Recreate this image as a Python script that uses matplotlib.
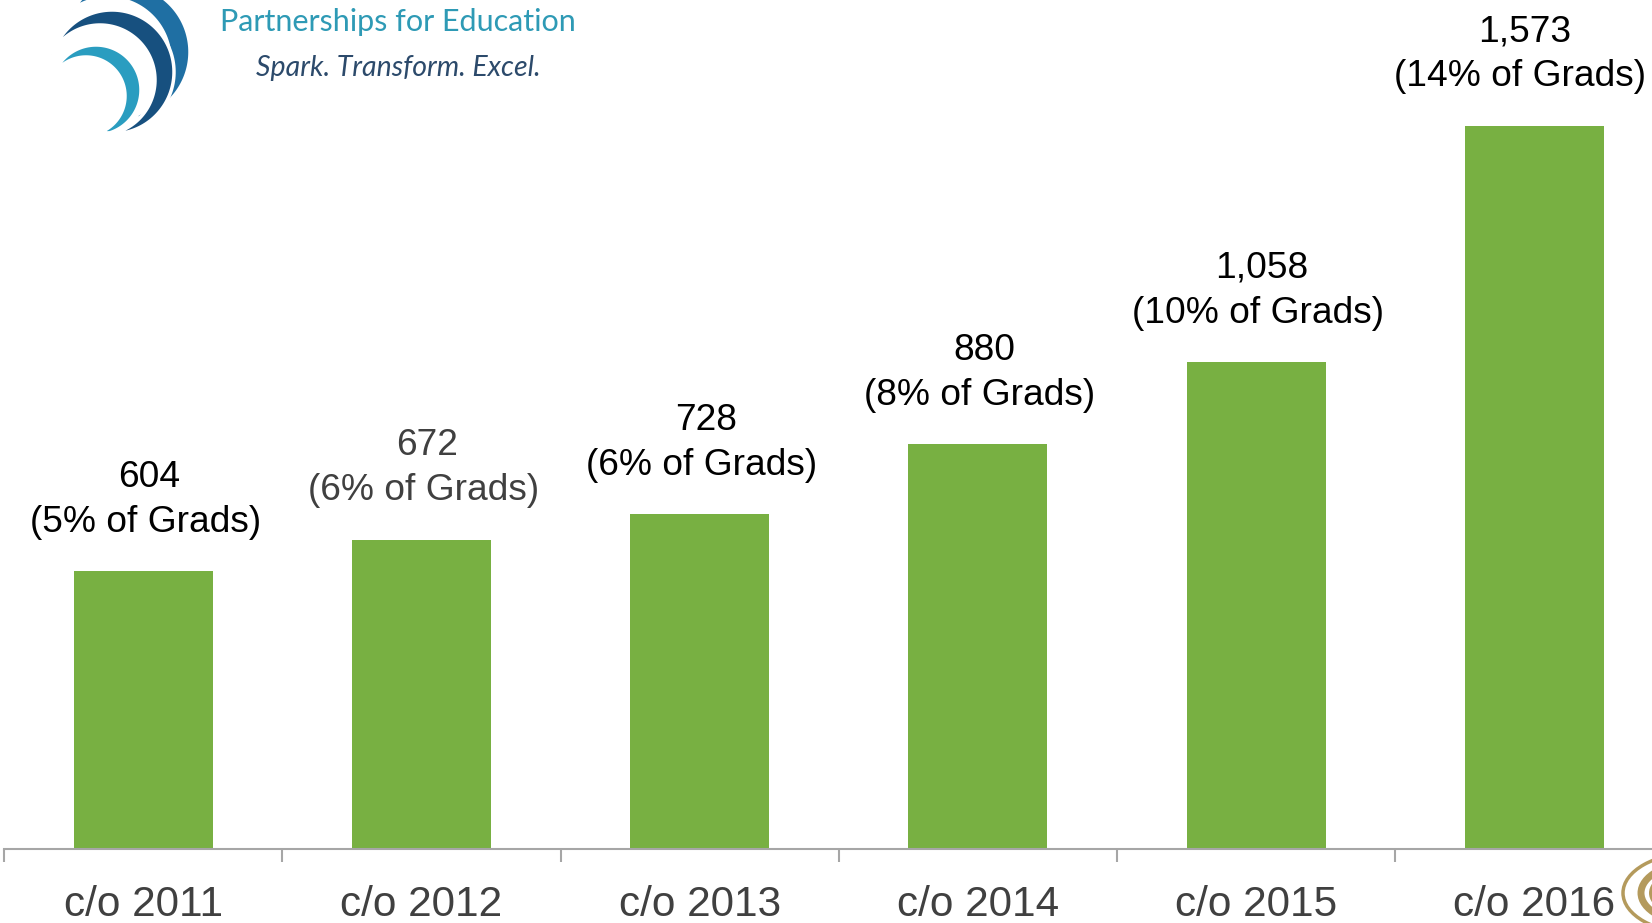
import numpy as np
import matplotlib
matplotlib.use("Agg")
import matplotlib.pyplot as plt
from matplotlib.patches import Polygon, Circle

# chart data
classes = ["c/o 2011", "c/o 2012", "c/o 2013", "c/o 2014", "c/o 2015", "c/o 2016"]
counts = [604, 672, 728, 880, 1058, 1573]
pct_grads = [5, 6, 6, 8, 10, 14]
label_colors = ["black", "#404040", "black", "black", "black", "black"]

BAR_GREEN = "#78B042"
AXIS_GREY = "#A6A6A6"
GOLD = "#B49A5C"

plt.rcParams["font.family"] = ["Liberation Sans", "DejaVu Sans"]

W, H = 1652, 923
fig = plt.figure(figsize=(W / 100, H / 100), dpi=100)

# axes runs a bit past the right edge, like the cropped slide
ax = fig.add_axes([4.2 / W, 74 / H, 1669.2 / W, 849 / H])
x = np.arange(len(classes))
bars = ax.bar(x, counts, width=0.5, color=BAR_GREEN, zorder=2)

ax.set_xlim(-0.5, len(classes) - 0.5)
ax.set_ylim(0, 1846)

for s in ["top", "left", "right"]:
    ax.spines[s].set_visible(False)
ax.spines["bottom"].set_color(AXIS_GREY)
ax.spines["bottom"].set_linewidth(1.5)
ax.set_yticks([])

ax.set_xticks(x)
ax.set_xticklabels(classes, fontsize=30.4, color="#404040")
ax.set_xticks(np.arange(len(classes) + 1) - 0.5, minor=True)
ax.tick_params(axis="x", which="major", length=0, pad=26)
ax.tick_params(axis="x", which="minor", length=9.4, width=1.5,
               color=AXIS_GREY, direction="out")

# two-line value labels above each bar; the last one is nudged left to stay on the slide
for i, (xi, n, p, c) in enumerate(zip(x, counts, pct_grads, label_colors)):
    dx = -14 if i == len(classes) - 1 else 2
    ax.annotate(f"{n:,}", (xi, n), xytext=(dx + 4, 94), textcoords="offset pixels",
                ha="center", va="center", fontsize=26.7, color=c)
    ax.annotate(f"({p}% of Grads)", (xi, n), xytext=(dx, 49), textcoords="offset pixels",
                ha="center", va="center", fontsize=26.7, color=c)


# logo in the top-left corner (decoration), pixel coords with y down
def swoosh(c1, r1, c2, r2, a0, a1, color):
    t = np.radians(np.linspace(a0, a1, 100))
    outer = np.c_[c1[0] + r1 * np.cos(t), c1[1] + r1 * np.sin(t)]
    inner = np.c_[c2[0] + r2 * np.cos(t[::-1]), c2[1] + r2 * np.sin(t[::-1])]
    pts = np.vstack([outer, inner])
    pts[:, 0] /= W
    pts[:, 1] = 1 - pts[:, 1] / H
    fig.patches.append(Polygon(pts, closed=True, facecolor=color, edgecolor="white",
                               linewidth=2.5, transform=fig.transFigure, figure=fig))


swoosh((122, 52), 68, (108, 60), 62, -125, 82, "#1F6FA3")
swoosh((112, 72), 62, (100, 80), 55, -152, 78, "#17507F")
swoosh((96, 90), 45, (86, 96), 39, -152, 72, "#2A9DC0")

fig.text(398 / W, 1 - 22 / H, "Partnerships for Education", ha="center", va="center",
         fontsize=22, color="#2E9AB5", family=["Lato", "DejaVu Sans"])
fig.text(398 / W, 1 - 68 / H, "Spark. Transform. Excel.", ha="center", va="center",
         fontsize=20.5, color="#2C4A6B", style="italic", family=["Lato", "DejaVu Sans"])

# partial university seal at the bottom-right edge (decoration)
seal_xy = (1695 / W, 1 - 893 / H)
fig.patches.append(Circle(seal_xy, 72 / W, facecolor="white", edgecolor=GOLD,
                          linewidth=2.5, transform=fig.transFigure))
fig.patches.append(Circle(seal_xy, 54 / W, facecolor="none", edgecolor=GOLD,
                          linewidth=5, transform=fig.transFigure))
fig.patches.append(Circle(seal_xy, 46 / W, facecolor=GOLD, edgecolor="none",
                          transform=fig.transFigure))

fig.savefig("out.png", dpi=100)
